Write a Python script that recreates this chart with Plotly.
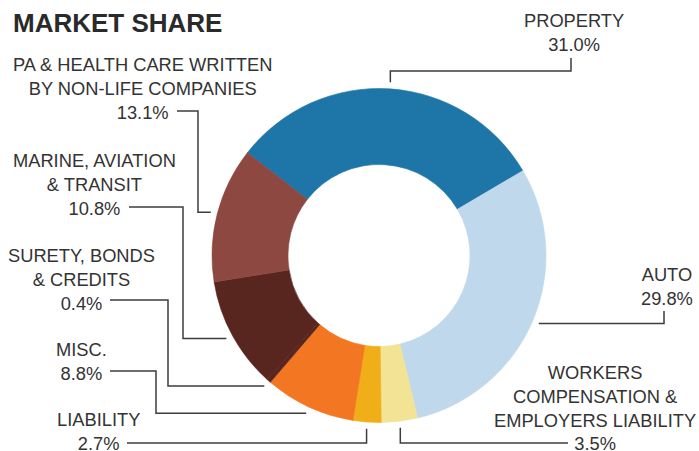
import math
import plotly.graph_objects as go

# ---- data ----
categories = ["PROPERTY", "AUTO", "WORKERS COMPENSATION & EMPLOYERS LIABILITY",
              "LIABILITY", "MISC.", "SURETY, BONDS & CREDITS",
              "MARINE, AVIATION & TRANSIT",
              "PA & HEALTH CARE WRITTEN BY NON-LIFE COMPANIES"]
shares = [31.0, 29.8, 3.5, 2.7, 8.8, 0.4, 10.8, 13.1]
label_lines = [
    ["PROPERTY"],
    ["AUTO"],
    ["WORKERS", "COMPENSATION &", "EMPLOYERS LIABILITY"],
    ["LIABILITY"],
    ["MISC."],
    ["SURETY, BONDS", "& CREDITS"],
    ["MARINE, AVIATION", "& TRANSIT"],
    ["PA & HEALTH CARE WRITTEN", "BY NON-LIFE COMPANIES"],
]
colors = ["#1e76a8", "#c0d8eb", "#f3e394", "#f0ae19", "#f37722",
          "#58251f", "#58251f", "#8d4841"]

W, H = 699, 451
START_ANGLE = -52.0          # clockwise from 12 o'clock
CX, CY, R = 379.0, 255.5, 167.0

# label layout (pixel positions of text block centres) and leader routes
label_pos = [(574, 33), (666.5, 286), (595, 408), (98, 431),
             (81.5, 361), (81, 279), (95, 184), (142.5, 89)]
# route: first move from anchor ('h' or 'v'), then alternating coordinates
routes = [("v", [71, 571, 58]),
          ("h", [664, 311]),
          ("v", [443, 568]),
          ("v", [443, 127]),
          ("h", [156, 371, 110]),
          ("h", [168, 300, 110]),
          ("h", [183, 207, 129]),
          ("h", [198, 111, 177])]

def px(x):
    return x / W

def py(y):
    return 1 - y / H

fig = go.Figure(go.Pie(
    labels=categories, values=shares, sort=False, direction="clockwise",
    rotation=START_ANGLE, hole=0.545, textinfo="none", hoverinfo="label+percent",
    marker=dict(colors=colors, line=dict(width=0.6, color=colors)),
    domain=dict(x=[px(CX - R), px(CX + R)], y=[py(CY + R), py(CY - R)]),
    showlegend=False,
))

total = sum(shares)
cum = 0.0
shapes = []
annotations = []
for i, v in enumerate(shares):
    mid = START_ANGLE + (cum + v / 2) / total * 360.0
    cum += v
    a = math.radians(mid)
    ax = CX + 1.04 * R * math.sin(a)
    ay = CY - 1.04 * R * math.cos(a)
    mode, coords = routes[i]
    pts = [(ax, ay)]
    x, y = ax, ay
    for c in coords:
        if mode == "h":
            x = c
            mode = "v"
        else:
            y = c
            mode = "h"
        pts.append((x, y))
    path = "M " + " L ".join(f"{px(p[0]):.5f},{py(p[1]):.5f}" for p in pts)
    shapes.append(dict(type="path", path=path, xref="paper", yref="paper",
                       line=dict(color="#3d3d3d", width=1.5)))
    lx, ly = label_pos[i]
    text = "<br>".join(label_lines[i] + [f"{v:.1f}%"])
    annotations.append(dict(text=text, x=px(lx), y=py(ly), xref="paper", yref="paper",
                            xanchor="center", yanchor="middle", align="center",
                            showarrow=False,
                            font=dict(family="Liberation Sans, Arial, sans-serif",
                                      size=18.3, color="#333333")))

annotations.append(dict(text="<b>MARKET SHARE</b>", x=px(11), y=py(23), xref="paper",
                        yref="paper", xanchor="left", yanchor="middle", showarrow=False,
                        font=dict(family="Liberation Sans, Arial, sans-serif",
                                  size=26, color="#2a2a2a")))

fig.update_layout(width=W, height=H, margin=dict(l=0, r=0, t=0, b=0),
                  paper_bgcolor="white", plot_bgcolor="white",
                  shapes=shapes, annotations=annotations)
fig.write_html("out.html", config={"displayModeBar": False},
               post_script="document.body.style.margin='0';document.body.style.overflow='hidden';")
